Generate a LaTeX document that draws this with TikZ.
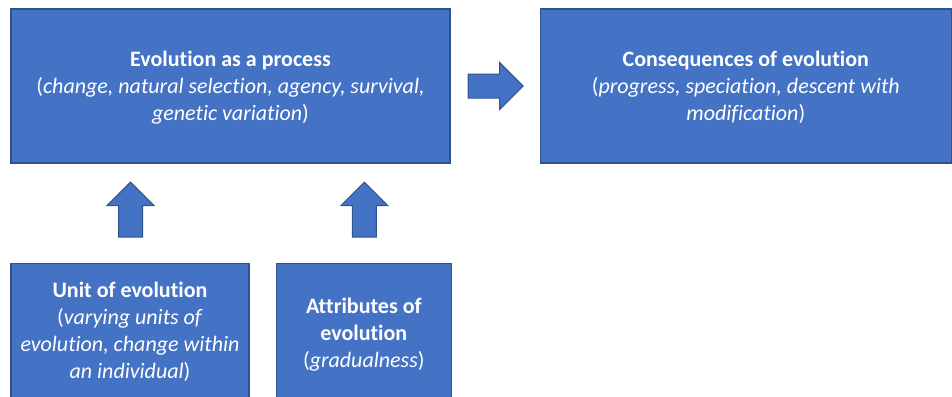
\documentclass[tikz,border=0pt]{standalone}
\usepackage{fontspec}
\setmainfont{Carlito}[Ligatures=NoCommon]
\usetikzlibrary{positioning,shapes.arrows,calc}
\definecolor{boxblue}{HTML}{4472C4}
\definecolor{boxline}{HTML}{2F528F}
\newcommand{\nodp}[1]{\raisebox{0pt}[\height][0pt]{#1}}
\tikzset{box/.style={draw=boxline,fill=boxblue,line width=1.3pt,text=white,align=center,inner sep=0pt,
    font=\fontsize{22}{27}\selectfont},
  bigarrow/.style={single arrow,draw=boxline,fill=boxblue,line width=1pt,minimum height=55pt,
    single arrow head extend=11.5pt,inner sep=11.5pt,anchor=tail}}
\begin{document}
\begin{tikzpicture}[x=1pt,y=-1pt]
  \useasboundingbox (0,0) rectangle (952,396);
  \clip (0,0) rectangle (952,396);
  % top row
  \node[box,minimum width=439pt,minimum height=154pt] (process) at (230.5,86)
    {\textbf{Evolution as a process}\\(\textit{change, natural selection, agency, survival,}\\\nodp{\textit{genetic variation})}};
  \node[box,minimum width=411pt,minimum height=154pt,right=89pt of process] (consequences)
    {\textbf{Consequences of evolution}\\(\textit{progress, speciation, descent with}\\\nodp{\textit{modification})}};
  % bottom row
  \node[box,minimum width=238pt,minimum height=138pt,below=99pt of process.south west,anchor=north west] (unit)
    {\textbf{Unit of evolution}\\(\textit{varying units of}\\\textit{evolution, change within}\\\textit{an individual})};
  \node[box,minimum width=175pt,minimum height=138pt,right=26pt of unit] (attributes)
    {\textbf{Attributes of}\\\textbf{evolution}\\\nodp{(\textit{gradualness})}};
  % block arrows
  \node[bigarrow] (toconseq) at ($(process.east)+(17,0)$) {};
  \node[bigarrow,rotate=90] (fromunit) at ($(unit.north)+(0.5,-25)$) {};
  \node[bigarrow,rotate=90] (fromattr) at ($(attributes.north)+(0.5,-25)$) {};
\end{tikzpicture}
\end{document}
